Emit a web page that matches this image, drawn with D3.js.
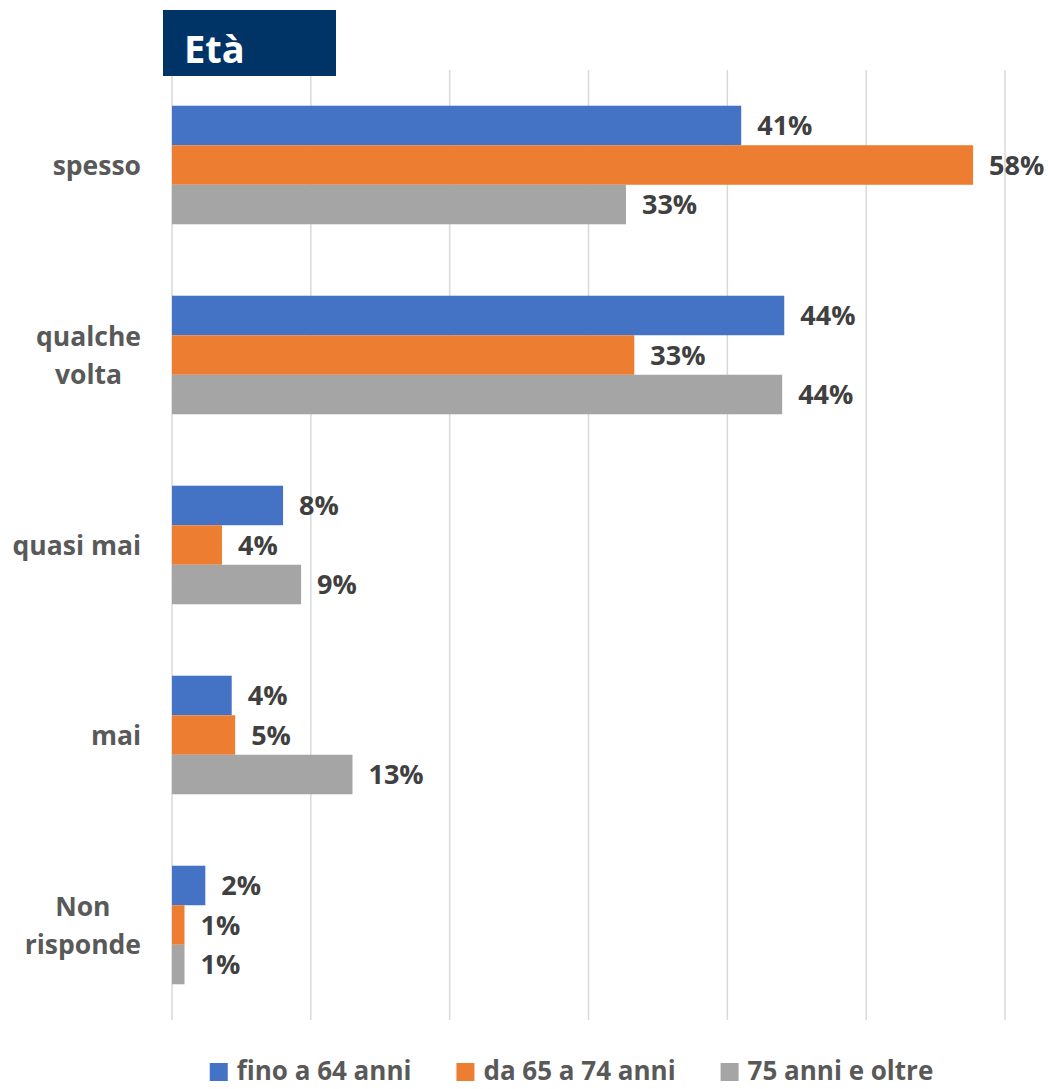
<!DOCTYPE html>
<html><head><meta charset="utf-8">
<script src="https://cdn.jsdelivr.net/npm/d3@7"></script>
<style>html,body{margin:0;padding:0;background:#fff;}svg{display:block;}</style>
</head><body>
<svg id="chart" width="1048" height="1089"></svg>
<script>
const title = "Età";
const categories = [["spesso"], ["qualche", "volta"], ["quasi mai"], ["mai"], ["Non", "risponde"]];
const seriesNames = ["fino a 64 anni", "da 65 a 74 anni", "75 anni e oltre"];
const seriesColors = ["#4472C4", "#ED7D31", "#A5A5A5"];
const fino64 = [41.0, 44.1, 8.0, 4.3, 2.4];
const da65a74 = [57.7, 33.3, 3.6, 4.55, 0.9];
const oltre75 = [32.7, 43.95, 9.3, 13.0, 0.9];
const xTicks = [0, 10, 20, 30, 40, 50, 60];

const series = [fino64, da65a74, oltre75];
const svg = d3.select("#chart");
const font = "'Open Sans', 'DejaVu Sans', sans-serif";

const plot = {left: 172, right: 1005, top: 70, bottom: 1020};
const x = d3.scaleLinear().domain([0, 60]).range([plot.left, plot.right]);
const catIdx = categories.map((c, i) => i);
const y0 = d3.scaleBand().domain(catIdx).range([plot.top, plot.bottom]).paddingInner(0.376).paddingOuter(0.188);
const y1 = d3.scaleBand().domain([0, 1, 2]).range([0, y0.bandwidth()]);

// gridlines
svg.append("g").selectAll("line").data(xTicks).join("line")
  .attr("x1", d => x(d)).attr("x2", d => x(d))
  .attr("y1", plot.top).attr("y2", plot.bottom)
  .attr("stroke", "#d9d9d9").attr("stroke-width", 1.5);

// bars
const groups = svg.append("g").selectAll("g").data(catIdx).join("g")
  .attr("transform", i => `translate(0,${y0(i)})`);
groups.selectAll("rect").data(i => series.map((s, k) => ({k, v: s[i]}))).join("rect")
  .attr("x", x(0)).attr("y", d => y1(d.k))
  .attr("width", d => x(d.v) - x(0)).attr("height", y1.bandwidth())
  .attr("fill", d => seriesColors[d.k]);
groups.selectAll("text").data(i => series.map((s, k) => ({k, v: s[i]}))).join("text")
  .attr("x", d => x(d.v) + 16).attr("y", d => y1(d.k) + y1.bandwidth() / 2)
  .attr("dy", "0.36em")
  .attr("font-family", font).attr("font-weight", 700).attr("font-size", 27)
  .attr("fill", "#404040")
  .text(d => Math.round(d.v) + "%");

// category labels
const catG = svg.append("g");
categories.forEach((lines, i) => {
  const cy = y0(i) + y0.bandwidth() / 2;
  const t = catG.append("text").attr("font-family", font).attr("font-weight", 700)
    .attr("font-size", 26.5).attr("fill", "#595959").attr("text-anchor", "middle");
  const lh = 38;
  let w = 0;
  lines.forEach((ln, j) => {
    const ts = t.append("tspan").attr("x", 0).attr("y", cy + (j - (lines.length - 1) / 2) * lh).attr("dy", "0.36em").text(ln);
    w = Math.max(w, ts.node().getComputedTextLength());
  });
  t.selectAll("tspan").attr("x", 141 - w / 2);
});

// title box
svg.append("rect").attr("x", 163).attr("y", 10).attr("width", 173).attr("height", 66).attr("fill", "#003366");
svg.append("text").attr("x", 184).attr("y", 63).attr("font-family", font).attr("font-weight", 700)
  .attr("font-size", 38).attr("fill", "#fff").text(title);

// legend
const leg = svg.append("g");
const items = [];
seriesNames.forEach((n, k) => {
  const g = leg.append("g");
  g.append("rect").attr("width", 18).attr("height", 18).attr("y", -17).attr("fill", seriesColors[k]);
  const t = g.append("text").attr("x", 27).attr("y", 0).attr("font-family", font).attr("font-weight", 700)
    .attr("font-size", 26).attr("fill", "#595959").text(n);
  items.push({g, w: 27 + t.node().getComputedTextLength()});
});
const gap = 45;
const total = d3.sum(items, d => d.w) + gap * (items.length - 1);
let lx = 571.5 - total / 2;
items.forEach(it => { it.g.attr("transform", `translate(${lx},1080)`); lx += it.w + gap; });
</script>
</body></html>
